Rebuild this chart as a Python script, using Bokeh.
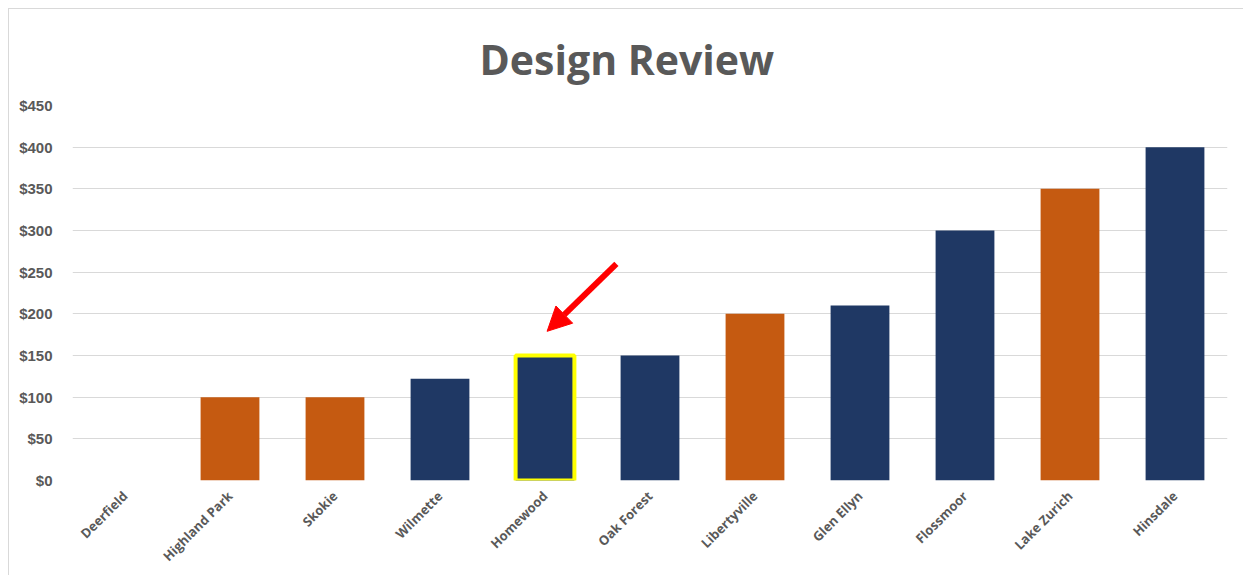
from bokeh.plotting import figure
from bokeh.models import ColumnDataSource, Arrow, NormalHead, NumeralTickFormatter, FixedTicker, Range1d
from bokeh.embed import file_html
from bokeh.resources import INLINE

# ---- data ----
cities = ["Deerfield", "Highland Park", "Skokie", "Wilmette", "Homewood", "Oak Forest",
          "Libertyville", "Glen Ellyn", "Flossmoor", "Lake Zurich", "Hinsdale"]
fees = [0, 100, 100, 122, 150, 150, 200, 210, 300, 350, 400]
groups = ["navy", "orange", "orange", "navy", "navy", "navy", "orange", "navy", "navy", "orange", "navy"]
highlight = "Homewood"
y_ticks = [0, 50, 100, 150, 200, 250, 300, 350, 400, 450]

palette = {"orange": "#C55A11", "navy": "#1F3864"}
colors = [palette[g] for g in groups]

src = ColumnDataSource(dict(city=cities, fee=fees, color=colors))

W, H = 1235, 567
p = figure(x_range=cities, width=W, height=H, output_backend="svg", toolbar_location=None,
           title="Design Review",
           min_border_left=63, min_border_right=17, min_border_top=96, min_border_bottom=96)
p.y_range = Range1d(0, 450)
p.styles = {"margin-left": "8px", "margin-top": "8px",
            "border-top": "1px solid #d9d9d9", "border-left": "1px solid #d9d9d9"}

p.title.align = "left"
p.title.offset = 407
p.title.standoff = 37
p.title.text_font = "Open Sans"
p.title.text_font_style = "bold"
p.title.text_font_size = "41px"
p.title.text_color = "#595959"

p.vbar(x="city", top="fee", width=0.56, source=src, fill_color="color", line_color=None)

hi = cities.index(highlight)
hsrc = ColumnDataSource(dict(city=[highlight], fee=[fees[hi]]))
p.vbar(x="city", top="fee", width=0.56, source=hsrc, fill_color=palette[groups[hi]],
       line_color="#FFFF00", line_width=4)

# arrow pointing at the highlighted bar
hx = hi + 0.5
hv = fees[hi]
p.add_layout(Arrow(end=NormalHead(size=24, fill_color="#FF0000", line_color="#FF0000"),
                   x_start=hx + 0.68, y_start=hv + 110, x_end=hx + 0.02, y_end=hv + 29,
                   line_color="#FF0000", line_width=6))

p.outline_line_color = None
p.xgrid.grid_line_color = None
p.ygrid.grid_line_color = "#d9d9d9"
p.ygrid.grid_line_width = 1

p.yaxis.ticker = FixedTicker(ticks=y_ticks)
p.yaxis.formatter = NumeralTickFormatter(format="$0")
for ax in (p.xaxis, p.yaxis):
    ax.axis_line_color = None
    ax.major_tick_line_color = None
    ax.minor_tick_line_color = None
    ax.major_label_text_color = "#595959"
    ax.major_label_text_font_style = "bold"

p.yaxis.major_label_text_font = "Liberation Sans"
p.yaxis.major_label_text_font_size = "15px"
p.yaxis.major_label_standoff = 14

p.xaxis.major_label_text_font = "Open Sans"
p.xaxis.major_label_text_font_size = "13px"
p.xaxis.major_label_orientation = 0.785398
p.xaxis.major_label_standoff = 7
p.x_range.range_padding = 0

open("out.html", "w").write(file_html(p, INLINE))
